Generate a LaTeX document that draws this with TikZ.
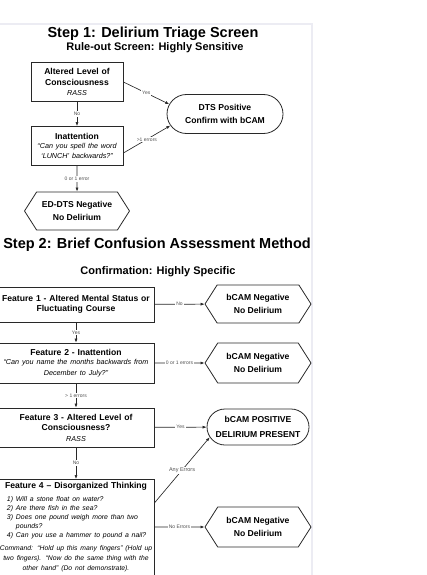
\documentclass[tikz,border=0pt]{standalone}
\usepackage{fontspec}
\setmainfont{Liberation Sans}
\usetikzlibrary{arrows.meta,shapes.symbols,shapes.misc}
\definecolor{inkg}{RGB}{40,40,40}
\definecolor{tagg}{RGB}{80,80,80}
\definecolor{frameg}{RGB}{236,236,243}
\newcommand\flowtitle{\fontsize{14.5}{17}\selectfont\bfseries}
\newcommand\flowsub{\fontsize{11}{13}\selectfont\bfseries}
\newcommand\flowbold{\fontsize{8.6}{10.5}\selectfont\bfseries}
\newcommand\flowital{\fontsize{7.2}{9}\selectfont\mdseries\itshape}
\newcommand\flowtag{\fontsize{5}{6}\selectfont}
\tikzset{
  stepbox/.style={draw=inkg, line width=0.8pt, align=center, inner sep=1pt, font=\flowbold},
  hexa/.style={draw=inkg, line width=0.8pt, shape=signal, signal to=west and east,
    signal pointer angle=115, align=center, inner sep=0pt,
    minimum width=106, minimum height=38, font=\fontsize{8.6}{13}\selectfont\bfseries},
  pill/.style={draw=inkg, line width=0.8pt, rounded rectangle, align=center, inner sep=0pt,
    font=\fontsize{8.6}{13}\selectfont\bfseries},
  arr/.style={draw=inkg, line width=0.65pt, -{Latex[length=4pt,width=3pt]}},
  lbl/.style={font=\flowtag, text=tagg, fill=white, inner sep=1pt}
}

\begin{document}
\begin{tikzpicture}[x=1pt,y=-1pt]
\useasboundingbox (0,0) rectangle (427,575);
\draw[frameg, line width=2.5pt] (0,24) -- (312,24) -- (312,580);

% step 1
\node[font=\flowtitle] (title1) at (153,34) {Step 1: Delirium Triage Screen};
\node[font=\flowsub] (sub1) at (155,48) {Rule-out Screen: Highly Sensitive};
\node[stepbox, text width=90, minimum height=39] (alc) at (77,82)
  {Altered Level of\\Consciousness\par{\flowital RASS}};
\node[stepbox, text width=90, minimum height=39] (inatt) at (77,146)
  {Inattention\par\flowital “Can you spell the word\\‘LUNCH’ backwards?”};
\node[pill, minimum width=116, minimum height=39] (dtspos) at (225,114)
  {DTS Positive\\Confirm with bCAM};
\node[hexa, minimum width=105] (edneg) at (77,211) {ED-DTS Negative\\No Delirium};

\draw[arr] (alc) -- node[lbl]{No} (inatt);
\draw[arr] (alc.east) -- node[lbl]{Yes} (dtspos.170);
\draw[arr] ([yshift=-7pt]inatt.east) -- node[lbl]{>1 errors} (dtspos.192);
\draw[arr] (inatt) -- node[lbl]{0 or 1 error} (edneg);

% step 2
\node[font=\flowtitle] (title2) at (157,245) {Step 2: Brief Confusion Assessment Method};
\node[font=\flowsub] (sub2) at (158,272) {Confirmation: Highly Specific};
\node[stepbox, text width=154, minimum height=35] (feat1) at (76,304.5)
  {Feature 1 - Altered Mental Status or\\Fluctuating Course};
\node[stepbox, text width=154, minimum height=40] (feat2) at (76,363)
  {Feature 2 - Inattention\par\flowital “Can you name the months backwards from\\December to July?”};
\node[stepbox, text width=154, minimum height=39] (feat3) at (76,427.5)
  {Feature 3 - Altered Level of\\Consciousness?\par{\flowital RASS}};
\node[stepbox, text width=156, inner xsep=0pt, anchor=north, inner ysep=3pt] (feat4) at (76,479)
  {Feature 4 – Disorganized Thinking\par\vspace{4.5pt}
   \fontsize{6.9}{8.8}\selectfont\mdseries\itshape\raggedright\leftskip=9pt
   1) Will a stone float on water?\\
   2) Are there fish in the sea?\\
   3) Does one pound weigh more than two\\
   \hspace*{9pt}pounds?\\
   4) Can you use a hammer to pound a nail?\par\vspace{3.5pt}
   \centering\leftskip=0pt\fontsize{6.8}{10}\selectfont
   \makebox[\linewidth]{Command: “Hold up this many fingers” (Hold up}\\
   \makebox[\linewidth]{two fingers). “Now do the same thing with the}\\
   \makebox[\linewidth]{other hand” (Do not demonstrate).}\par\vspace{8pt}};

\node[hexa] (neg1) at (258,304) {bCAM Negative\\No Delirium};
\node[hexa, minimum height=40] (neg2) at (258,363) {bCAM Negative\\No Delirium};
\node[pill, minimum width=102, minimum height=36, font=\fontsize{8.6}{15}\selectfont\bfseries]
  (bpos) at (258,427) {bCAM POSITIVE\\DELIRIUM PRESENT};
\node[hexa, minimum height=40] (neg3) at (258,527) {bCAM Negative\\No Delirium};

\draw[arr] (feat1) -- node[lbl]{No} (neg1);
\draw[arr] (feat1) -- node[lbl]{Yes} (feat2);
\draw[arr] (feat2) -- node[lbl]{0 or 1 errors} (neg2);
\draw[arr] (feat2) -- node[lbl]{> 1 errors} (feat3);
\draw[arr] (feat3) -- node[lbl]{Yes} (bpos);
\draw[arr] (feat3) -- node[lbl]{No} (feat4);
\draw[arr] ([yshift=-24pt]feat4.north east) -- node[lbl, font=\fontsize{5.5}{6}\selectfont]{Any Errors} (bpos.192);
\draw[arr] (feat4.east |- neg3) -- node[lbl]{No Errors} (neg3);
\end{tikzpicture}
\end{document}
